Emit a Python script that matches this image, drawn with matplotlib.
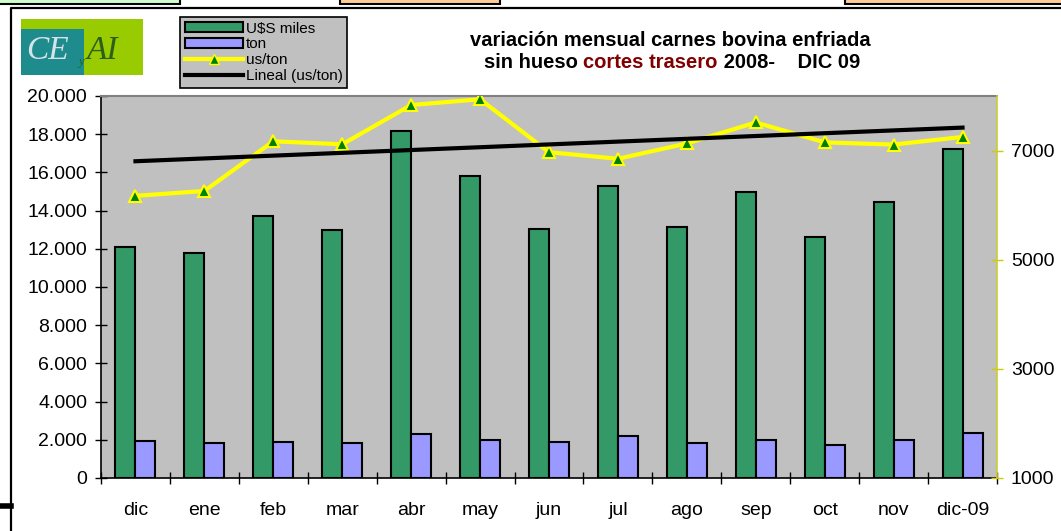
import numpy as np
import matplotlib
matplotlib.use('Agg')
import matplotlib.pyplot as plt
from matplotlib.patches import Rectangle, Patch
from matplotlib.lines import Line2D
from matplotlib.ticker import FuncFormatter

# Data
months = ['dic', 'ene', 'feb', 'mar', 'abr', 'may', 'jun', 'jul', 'ago', 'sep', 'oct', 'nov', 'dic-09']
usd_miles = [12110, 11770, 13720, 12980, 18170, 15800, 13040, 15290, 13140, 14960, 12630, 14450, 17220]
ton = [1940, 1850, 1890, 1815, 2290, 1990, 1865, 2200, 1815, 1975, 1730, 2010, 2340]
us_ton = [6170, 6260, 7170, 7115, 7835, 7940, 6970, 6850, 7130, 7515, 7150, 7110, 7250]

plt.rcParams['font.family'] = ['Liberation Sans', 'DejaVu Sans']

W, H = 1061, 531
fig = plt.figure(figsize=(W / 100, H / 100), dpi=100)


def fx(x):
    return x / W


def fy(y):
    return 1 - y / H


# page decorations (frame and clipped boxes)
fig.add_artist(Line2D([fx(11), fx(11), fx(1061)], [fy(531), fy(8), fy(8)],
                      color='black', lw=1.6, transform=fig.transFigure))
fig.add_artist(Line2D([fx(0), fx(11)], [fy(506), fy(506)], color='black', lw=4,
                      transform=fig.transFigure))
for x0, x1, fc in [(-2, 180, '#CCFFCC'), (340, 500, '#FFCC99'), (845, 1065, '#FFCC99')]:
    fig.add_artist(Rectangle((fx(x0), fy(4)), fx(x1 - x0), 8 / H, facecolor=fc,
                             edgecolor='black', lw=1.5, transform=fig.transFigure))

# logo
fig.add_artist(Rectangle((fx(21), fy(75)), fx(122), 56 / H, facecolor='#99CC00',
                         edgecolor='none', transform=fig.transFigure))
fig.add_artist(Rectangle((fx(21), fy(75)), fx(63), 46 / H, facecolor='#1E8C8C',
                         edgecolor='none', transform=fig.transFigure))
fig.text(fx(26), fy(51), 'CE', family='Liberation Serif', style='italic', fontsize=24,
         color='#D5E3EA', va='center', ha='left')
fig.text(fx(78), fy(62), 'y', family='Liberation Serif', style='italic', fontsize=9,
         color='#2E5E1E', va='center', ha='left')
fig.text(fx(87), fy(51), 'AI', family='Liberation Serif', style='italic', fontsize=24,
         color='#2E5E1E', va='center', ha='left')

# main axes
ax = fig.add_axes([fx(101), fy(478), fx(997 - 101), (478 - 96) / H])
ax.set_facecolor('#C0C0C0')
x = np.arange(len(months))
w = 0.29
ax.bar(x - w / 2, usd_miles, w, color='#339966', edgecolor='black', lw=1.5, zorder=2)
ax.bar(x + w / 2, ton, w, color='#9999FF', edgecolor='black', lw=1.5, zorder=2)
ax.set_xlim(-0.5, len(months) - 0.5)
ax.set_ylim(0, 20000)
ax.set_yticks(np.arange(0, 20001, 2000))
ax.yaxis.set_major_formatter(FuncFormatter(lambda v, p: f'{int(v):,}'.replace(',', '.')))
ax.set_xticks(np.arange(-0.5, len(months), 1))
ax.set_xticklabels([])
ax.set_xticks(x, minor=True)
ax.set_xticklabels(months, minor=True)
ax.tick_params(axis='x', which='major', direction='inout', length=8, width=1)
ax.tick_params(axis='x', which='minor', length=0, pad=17, labelsize=14)
ax.tick_params(axis='y', direction='inout', length=8, width=1, labelsize=14, pad=6)
ax.spines['top'].set_color('#808080')
ax.spines['top'].set_linewidth(1.5)
ax.spines['right'].set_visible(False)
ax.spines['left'].set_linewidth(1.2)
ax.spines['bottom'].set_linewidth(1.2)

# right axis
ax2 = ax.twinx()
ax2.plot(x, us_ton, color='#FFFF00', lw=3, marker='^', markersize=9,
         markerfacecolor='#008000', markeredgecolor='#FFFF00', markeredgewidth=1.5, zorder=3)
coef = np.polyfit(x, us_ton, 1)
ax2.plot(x, np.polyval(coef, x), color='black', lw=3, zorder=4)
ax2.set_ylim(1000, 8000)
ax2.set_yticks([1000, 3000, 5000, 7000])
ax2.tick_params(axis='y', direction='inout', length=8, width=1, color='#CCCC00',
                labelsize=14, pad=6)
for s in ['top', 'left', 'bottom']:
    ax2.spines[s].set_visible(False)
ax2.spines['right'].set_color('#CCCC33')
ax2.spines['right'].set_linewidth(1.2)

# legend
handles = [Patch(facecolor='#339966', edgecolor='black', lw=1.5),
           Patch(facecolor='#9999FF', edgecolor='black', lw=1.5),
           Line2D([], [], color='#FFFF00', lw=3, marker='^', markersize=7,
                  markerfacecolor='#008000', markeredgecolor='#FFFF00'),
           Line2D([], [], color='black', lw=3)]
leg = fig.legend(handles, ['U$S miles', 'ton', 'us/ton', 'Lineal (us/ton)'],
                 loc='upper left', bbox_to_anchor=(fx(180), fy(17)), borderaxespad=0,
                 fontsize=11, frameon=True, fancybox=False, facecolor='#C0C0C0',
                 edgecolor='black', framealpha=1, handlelength=3.8, handleheight=0.6,
                 labelspacing=0.12, handletextpad=0.2, borderpad=0.3)
leg.get_frame().set_linewidth(1.2)

# title
fig.text(fx(670), fy(40), 'variación mensual carnes bovina enfriada', ha='center',
         va='center', fontsize=14.5, fontweight='bold')
fig.canvas.draw()
r = fig.canvas.get_renderer()
parts = [('sin hueso ', 'black'), ('cortes trasero', '#800000'), (' 2008-    DIC 09', 'black')]
texts = [fig.text(0, fy(63), s, ha='left', va='center', fontsize=14.5,
                  fontweight='bold', color=c) for s, c in parts]
widths = [t.get_window_extent(r).width for t in texts]
x0 = 672 - sum(widths) / 2
for t, wd in zip(texts, widths):
    t.set_x(fx(x0))
    x0 += wd

fig.savefig('out.png', dpi=100)
